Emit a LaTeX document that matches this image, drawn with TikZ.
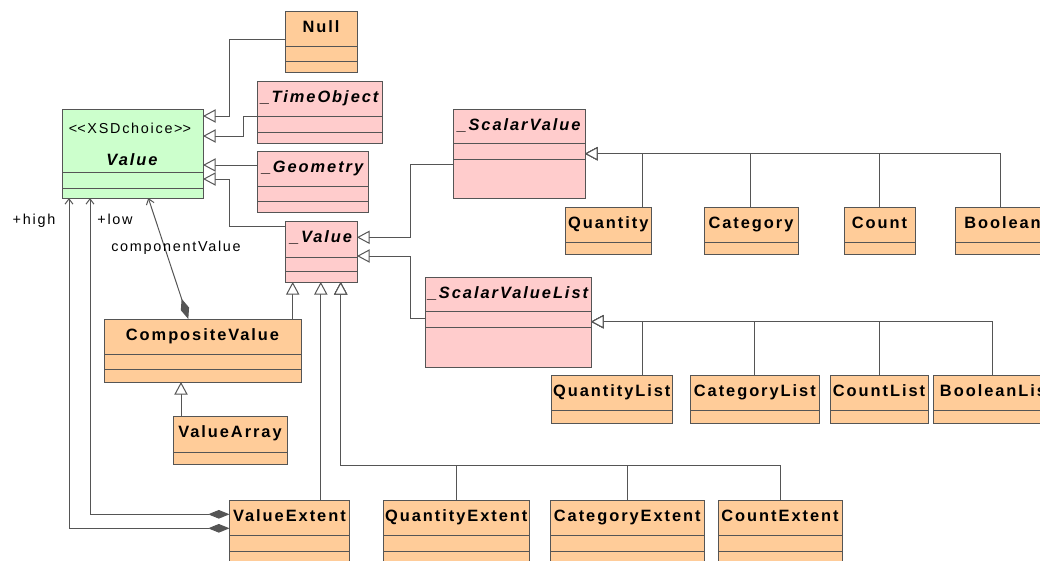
\documentclass[tikz,border=0pt]{standalone}
\usepackage{fontspec}
\setmainfont{Liberation Sans}[LetterSpace=12]
\usetikzlibrary{arrows.meta, fit, calc}

\definecolor{clsorange}{RGB}{255,204,153}
\definecolor{clspink}{RGB}{255,204,204}
\definecolor{clsgreen}{RGB}{204,255,204}
\definecolor{umlgray}{RGB}{85,85,85}

\tikzset{
  clsbox/.style={draw=umlgray, line width=0.75pt, inner sep=0pt, outer sep=0pt},
  cmpline/.style={draw=umlgray, line width=0.75pt},
  clsname/.style={font=\fontsize{12.3pt}{14pt}\selectfont\bfseries, inner sep=0pt},
  absname/.style={font=\fontsize{12.3pt}{14pt}\selectfont\bfseries\itshape, inner sep=0pt},
  lbl/.style={inner sep=0pt},
  gen/.style={draw=umlgray, line width=0.75pt, -{Triangle[length=9.5pt, width=10pt, fill=white]}},
  compo/.style={draw=umlgray, line width=0.75pt, {Diamond[length=16pt, width=6.5pt]}-{Straight Barb[length=4pt, width=6pt]}},
}

% class box: fill, name, corner, corner, compartment lines, title
\newcommand{\umlclass}[6][clsorange]{%
  \node[clsbox, fill=#1, fit={(#3) (#4)}] (#2) {};
  \foreach \ly in {#5}
    \draw[cmpline] (#2.west |- 0,\ly) -- (#2.east |- 0,\ly);
  \node[clsname, anchor=base] (#2-t) at ($(#2.north)+(0,21)$) {#6};
}

\begin{document}
\begin{tikzpicture}[x=0.75pt, y=-0.75pt, font=\fontsize{10.8pt}{13pt}\selectfont]
    \useasboundingbox (0,0) rectangle (1040,561);
    \clip (0,0) rectangle (1040,561);

    % the choice type
    \node[clsbox, fill=clsgreen, fit={(62,109) (203,198)}] (value) {};
    \draw[cmpline] (value.west |- 0,172) -- (value.east |- 0,172);
    \draw[cmpline] (value.west |- 0,188) -- (value.east |- 0,188);
    \node[lbl, anchor=base] (value-s) at (130,133) {<\kern0pt<XSDchoice>\kern0pt>};
    \node[absname, anchor=base] (value-t) at (132,165) {Value};

    % abstract classes
    \umlclass{null}{285,11}{357,72}{46,61}{Null}
    \umlclass[clspink]{timeobj}{257,81}{382,143}{116,132}{\itshape\_TimeObject}
    \umlclass[clspink]{geom}{257,151}{368,212}{186,201}{\itshape\_Geometry}
    \umlclass[clspink]{val}{285,221}{357,282}{257,271}{\itshape\_Value}
    \umlclass[clspink]{sv}{453,109}{585,198}{143.7,159.3}{\itshape\_ScalarValue}
    \umlclass[clspink]{svl}{425,277}{591,367}{311.7,327.3}{\itshape\_ScalarValueList}

    % composite side
    \umlclass{comp}{104,319}{301,382}{354,369}{CompositeValue}
    \umlclass{varr}{173,416}{287,464}{452}{ValueArray}

    % scalars
    \umlclass{quantity}{565,207}{651.5,254}{242}{Quantity}
    \umlclass{category}{704,207}{798,254}{242}{Category}
    \umlclass{count}{844,207}{915,254}{242}{Count}
    \umlclass{boolean}{955,207}{1050,254}{242}{Boolean}

    % lists
    \umlclass{qlist}{551,375}{672.5,423}{410}{QuantityList}
    \umlclass{clist}{690.6,375}{819,423}{410}{CategoryList}
    \umlclass{nlist}{830,375}{928,423}{410}{CountList}
    \umlclass{blist}{933.5,375}{1060,423}{410}{BooleanList}

    % extents
    \umlclass{vext}{229.5,500}{349.4,575}{535,551}{ValueExtent}
    \umlclass{qext}{383,500}{529.6,575}{535,551}{QuantityExtent}
    \umlclass{cext}{550.6,500}{704,575}{535,551}{CategoryExtent}
    \umlclass{cntext}{718,500}{842,575}{535,551}{CountExtent}

    % generalisations into Value
    \draw[gen] (null.west |- 0,39) -| (229.3,116) -- (value.east |- 0,116);
    \draw[gen] (timeobj.west |- 0,116) -| (243.7,136) -- (value.east |- 0,136);
    \draw[gen] (geom.west |- 0,165) -- (value.east |- 0,165);
    \draw[gen] (val.west |- 0,226.7) -| (229.3,179) -- (value.east |- 0,179);

    % generalisations into _Value
    \draw[gen] (sv.west |- 0,164.7) -| (410.7,237.3) -- (val.east |- 0,237.3);
    \draw[gen] (svl.west |- 0,318.3) -| (410.7,256) -- (val.east |- 0,256);
    \draw[gen] (comp.north -| 292.7,0) -- (val.south -| 292.7,0);
    \draw[gen] (vext.north -| 320.8,0) -- (val.south -| 320.8,0);
    \foreach \cls/\xx in {qext/456, cext/627.6, cntext/780.4}
        \draw[gen] (\cls.north -| \xx,0) |- (340.7,465.7) -- (val.south -| 340.7,0);

    \draw[gen] (varr.north -| 181,0) -- (comp.south -| 181,0);

    % scalar and list hierarchies
    \foreach \cls/\xx in {quantity/642, category/750.8, count/879.6, boolean/1000.8}
        \draw[gen] (\cls.north -| \xx,0) |- (sv.east |- 0,153.7);
    \foreach \cls/\xx in {qlist/642.2, clist/754.6, nlist/879.6, blist/992.4}
        \draw[gen] (\cls.north -| \xx,0) |- (svl.east |- 0,321.7);

    % associations
    \draw[compo] (vext.west |- 0,528.3) -| (value.south -| 69,0);
    \draw[compo] (vext.west |- 0,514.3) -| (value.south -| 90,0);
    \draw[compo] (comp.north -| 188.3,0) -- (value.south -| 148.3,0);
    \node[lbl, anchor=base] (lhigh) at (34,224) {+high};
    \node[lbl, anchor=base] (llow) at (115,224) {+low};
    \node[lbl, anchor=base] (lcomp) at (176,251.6) {componentValue};
\end{tikzpicture}
\end{document}
